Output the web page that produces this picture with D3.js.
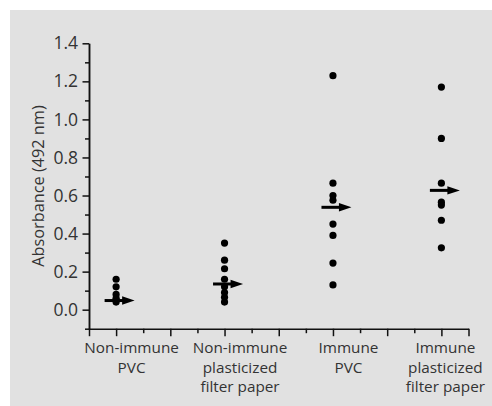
<!DOCTYPE html>
<html>
<head>
<meta charset="utf-8">
<script src="https://cdn.jsdelivr.net/npm/d3@7"></script>
<style>
  html, body { margin: 0; padding: 0; background: #fff; }
  svg { display: block; }
  text { font-family: "Open Sans", "Noto Sans", sans-serif; fill: #333; }
</style>
</head>
<body>
<svg id="chart" width="492" height="406"></svg>
<script>
// group names and their slot on the x axis
const groups = [
  ["Non-immune", "PVC"],
  ["Non-immune", "plasticized", "filter paper"],
  ["Immune", "PVC"],
  ["Immune", "plasticized", "filter paper"],
];
const groupPos = [1, 5, 9, 13];

// absorbance readings per group
const nonImmunePVC = [0.16, 0.12, 0.08, 0.06, 0.05, 0.04];
const nonImmuneFilter = [0.35, 0.26, 0.215, 0.16, 0.12, 0.09, 0.065, 0.04];
const immunePVC = [1.23, 0.665, 0.6, 0.575, 0.45, 0.39, 0.245, 0.13];
const immuneFilter = [1.17, 0.9, 0.665, 0.565, 0.55, 0.47, 0.325];
const values = [nonImmunePVC, nonImmuneFilter, immunePVC, immuneFilter];

// median markers (arrows)
const medians = [0.048, 0.135, 0.538, 0.627];

const yTicks = [0.0, 0.2, 0.4, 0.6, 0.8, 1.0, 1.2, 1.4];

const chart = d3.select("#chart");

chart
  .append("rect")
  .attr("x", 10)
  .attr("y", 10)
  .attr("width", 482)
  .attr("height", 396)
  .attr("fill", "#e1e1e1");

const xScale = d3.scaleLinear().domain([0, 14]).range([89, 468.5]);
const yScale = d3.scaleLinear().domain([-0.1, 1.4]).range([328.7, 43.3]);

// x axis: long ticks on odd slots and ends, short on even
const xAxis = d3
  .axisBottom(xScale)
  .tickValues(d3.range(0, 15))
  .tickSize(7)
  .tickSizeOuter(0)
  .tickFormat("");

const gx = chart.append("g").attr("transform", "translate(0,328.7)").call(xAxis);
gx.selectAll(".tick line")
  .attr("y2", (d) => (d % 2 === 0 && d !== 0 && d !== 14 ? 4.5 : 7.5));

// y axis: major every 0.2 with labels, minor in between
const yMinor = d3
  .axisLeft(yScale)
  .tickValues(d3.range(-0.1, 1.4, 0.2))
  .tickSize(4)
  .tickSizeOuter(0)
  .tickFormat("");
chart.append("g").attr("transform", "translate(89,0)").call(yMinor);

const yAxis = d3
  .axisLeft(yScale)
  .tickValues(yTicks)
  .tickSize(6.5)
  .tickSizeOuter(0)
  .tickPadding(4)
  .tickFormat(d3.format(".1f"));
const gy = chart.append("g").attr("transform", "translate(89,0)").call(yAxis);

chart.selectAll(".domain").attr("stroke", "#111").attr("stroke-width", 1.5);
chart.selectAll(".tick line").attr("stroke", "#111").attr("stroke-width", 1.5);

gy.selectAll(".tick text")
  .attr("x", -11)
  .style("font-size", "17.5px")
  .style("font-family", '"Open Sans", "Noto Sans", sans-serif')
  .attr("fill", "#333");

// y axis title
chart
  .append("text")
  .attr("transform", "translate(43.5,186) rotate(-90)")
  .attr("text-anchor", "middle")
  .style("font-size", "16.3px")
  .text("Absorbance (492 nm)");

// points
values.forEach((vals, i) => {
  chart
    .append("g")
    .selectAll("circle")
    .data(vals)
    .enter()
    .append("circle")
    .attr("cx", xScale(groupPos[i]))
    .attr("cy", (d) => yScale(d))
    .attr("r", 3.6)
    .attr("fill", "#000");
});

// median arrows
const arrows = chart
  .append("g")
  .selectAll("g")
  .data(medians)
  .enter()
  .append("g")
  .attr("transform", (d, i) => `translate(${xScale(groupPos[i])},${yScale(d)})`);

arrows
  .append("line")
  .attr("x1", -11.5)
  .attr("x2", 8)
  .attr("stroke", "#000")
  .attr("stroke-width", 3);

arrows
  .append("path")
  .attr("d", "M6,-4.2L18.5,0L6,4.2Z")
  .attr("fill", "#000");

// category labels, one text per line, centred a bit right of the points
groups.forEach((lines, i) => {
  const g = chart.append("g");
  const texts = g
    .selectAll("text")
    .data(lines)
    .enter()
    .append("text")
    .attr("text-anchor", "middle")
    .attr("y", (d, j) => 353 + j * 19.5)
    .style("font-size", "15.3px")
    .text((d) => d);
  const w = d3.max(texts.nodes(), (n) => n.getComputedTextLength());
  const cx = Math.min(xScale(groupPos[i]) + 15.5, 492 - 7 - w / 2);
  texts.attr("x", cx);
});
</script>
</body>
</html>
